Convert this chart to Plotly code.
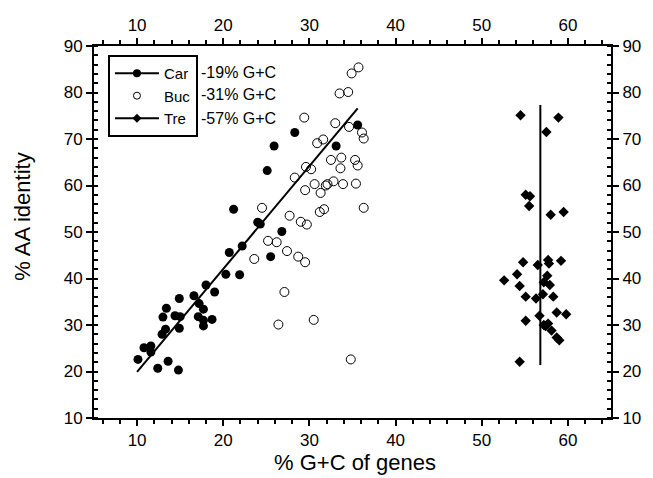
import plotly.graph_objects as go

# ---- data ----
car_x = [25.1, 21.2, 24.0, 24.3, 25.5, 20.7, 22.2, 20.3, 21.9, 18.0, 19.0, 14.9, 16.6,
         17.2, 13.4, 17.7, 13.0, 14.4, 15.0, 17.1, 17.7, 18.7, 17.7, 14.9, 13.3, 12.9,
         10.8, 11.6, 11.6, 10.1, 12.4, 13.6, 14.8, 28.3, 25.9, 33.1, 35.6, 26.8]
car_y = [63.2, 54.9, 52.1, 51.7, 44.7, 45.6, 47.0, 40.9, 40.8, 38.6, 37.1, 35.7, 36.3,
         34.6, 33.6, 33.4, 31.7, 32.0, 31.8, 31.8, 31.0, 31.2, 29.8, 29.3, 29.1, 28.0,
         25.1, 25.5, 24.2, 22.6, 20.7, 22.2, 20.3, 71.4, 68.5, 68.5, 73.0, 50.1]
car_fit_x = [10.0, 35.6]
car_fit_y = [19.9, 76.6]

buc_x = [35.7, 34.9, 34.5, 33.5, 29.4, 33.0, 34.6, 36.1, 36.3, 31.6, 30.9, 33.7, 32.5,
         35.3, 35.6, 29.6, 30.2, 33.6, 28.3, 30.6, 32.1, 32.8, 33.9, 35.4, 31.9, 29.5,
         31.3, 24.5, 31.7, 31.2, 36.3, 27.7, 29.0, 29.7, 25.2, 26.2, 23.6, 27.4, 28.7,
         29.5, 27.1, 26.4, 30.5, 34.8]
buc_y = [85.4, 84.1, 80.1, 79.8, 74.6, 73.4, 72.6, 71.4, 70.1, 69.9, 69.1, 66.0, 65.5,
         65.5, 64.3, 64.0, 63.5, 63.7, 61.7, 60.3, 60.3, 60.9, 60.3, 60.4, 60.0, 59.0,
         58.4, 55.2, 54.9, 54.3, 55.2, 53.5, 52.2, 51.6, 48.1, 47.8, 44.2, 45.9, 44.7,
         43.5, 37.1, 30.1, 31.1, 22.6]

tre_x = [54.5, 58.9, 57.5, 55.1, 55.6, 55.5, 58.0, 59.5, 54.8, 56.5, 57.7, 57.8, 59.2,
         54.1, 52.6, 57.6, 57.2, 57.9, 54.4, 55.1, 56.3, 57.1, 58.3, 56.7, 58.7, 59.8,
         55.1, 57.2, 57.7, 57.4, 58.1, 58.7, 59.0, 54.4]
tre_y = [75.1, 74.6, 71.5, 58.0, 57.7, 55.6, 53.7, 54.3, 43.5, 42.9, 44.0, 43.2, 43.8,
         40.9, 39.6, 40.6, 39.2, 38.6, 38.4, 36.1, 35.7, 36.6, 36.1, 32.0, 32.7, 32.3,
         30.9, 30.0, 30.3, 29.8, 28.8, 27.3, 26.7, 22.1]
tre_fit_x = [56.8, 56.8]
tre_fit_y = [21.4, 77.3]

series_names = ["Car", "Buc", "Tre"]
series_notes = ["-19% G+C", "-31% G+C", "-57% G+C"]
x_ticks = [10, 20, 30, 40, 50, 60]
y_ticks = [10, 20, 30, 40, 50, 60, 70, 80, 90]

FONT = "Liberation Sans"
fig = go.Figure()

# data marks
fig.add_trace(go.Scatter(x=car_fit_x, y=car_fit_y, mode="lines",
                         line=dict(color="black", width=2), showlegend=False))
fig.add_trace(go.Scatter(x=tre_fit_x, y=tre_fit_y, mode="lines",
                         line=dict(color="black", width=2), showlegend=False))
fig.add_trace(go.Scatter(x=car_x, y=car_y, mode="markers", showlegend=False,
                         marker=dict(symbol="circle", size=9, color="black")))
fig.add_trace(go.Scatter(x=buc_x, y=buc_y, mode="markers", showlegend=False,
                         marker=dict(symbol="circle-open", size=9, color="black",
                                     line=dict(width=1, color="black"))))
fig.add_trace(go.Scatter(x=tre_x, y=tre_y, mode="markers", showlegend=False,
                         marker=dict(symbol="diamond", size=8, color="black")))

# legend entries (no data)
fig.add_trace(go.Scatter(x=[None], y=[None], mode="lines+markers", name=series_names[0],
                         legendgroup="a", line=dict(color="black", width=2),
                         marker=dict(symbol="circle", size=8, color="black")))
fig.add_trace(go.Scatter(x=[None], y=[None], mode="markers", name=series_names[1],
                         legendgroup="b",
                         marker=dict(symbol="circle-open", size=7, color="black",
                                     line=dict(width=1, color="black"))))
fig.add_trace(go.Scatter(x=[None], y=[None], mode="lines+markers", name=series_names[2],
                         legendgroup="c", line=dict(color="black", width=2),
                         marker=dict(symbol="diamond", size=7, color="black")))

# dummy for secondary axes
fig.add_trace(go.Scatter(x=[None], y=[None], xaxis="x2", yaxis="y2", showlegend=False))

axis_common = dict(showgrid=False, zeroline=False, showline=True, linecolor="black",
                   linewidth=2, ticks="outside", ticklen=6, tickwidth=1.5,
                   tickcolor="black", tickfont=dict(family=FONT, size=17, color="black"))

fig.update_layout(
    width=653, height=478,
    margin=dict(l=94, r=37, t=46, b=60),
    plot_bgcolor="white", paper_bgcolor="white",
    font=dict(family=FONT, color="black"),
    xaxis=dict(range=[5, 65], tickvals=x_ticks,
               minor=dict(dtick=2, tick0=0, ticklen=4, ticks="outside", tickcolor="black"),
               **axis_common),
    xaxis2=dict(range=[5, 65], tickvals=x_ticks, overlaying="x", side="top",
                anchor="y",
                minor=dict(dtick=2, tick0=0, ticklen=4, ticks="outside", tickcolor="black"),
                **axis_common),
    yaxis=dict(range=[10, 90], tickvals=y_ticks,
               minor=dict(dtick=2, tick0=0, ticklen=4, ticks="inside", tickcolor="black"),
               **axis_common),
    yaxis2=dict(range=[10, 90], tickvals=y_ticks, overlaying="y", side="right",
                anchor="x",
                minor=dict(dtick=2, tick0=0, ticklen=4, ticks="inside", tickcolor="black"),
                **axis_common),
    legend=dict(x=0.027, y=0.976, xanchor="left", yanchor="top", bgcolor="white",
                bordercolor="black", borderwidth=2, tracegroupgap=0, itemwidth=44,
                font=dict(family=FONT, size=15, color="black")),
    shapes=[dict(type="rect", xref="paper", yref="paper", x0=0.0326, x1=0.2,
                 y0=0.756, y1=0.968, fillcolor="black", line=dict(width=0),
                 layer="above")],
    annotations=[
        dict(text="% AA identity", xref="paper", yref="paper", x=-0.14, y=0.54,
             xanchor="center", yanchor="middle",
             textangle=-90, showarrow=False, font=dict(family=FONT, size=22)),
        dict(text="% G+C of genes", xref="paper", yref="paper", x=0.505, y=-0.12,
             showarrow=False, yanchor="middle", font=dict(family=FONT, size=22)),
    ] + [
        dict(text=series_notes[i], xref="paper", yref="paper", x=0.203, y=yy,
             xanchor="left", yanchor="middle", showarrow=False,
             font=dict(family=FONT, size=16))
        for i, yy in enumerate([0.930, 0.870, 0.804])
    ],
)

fig.write_html("out.html", post_script="document.body.style.margin='0';",
               config={"displayModeBar": False})
